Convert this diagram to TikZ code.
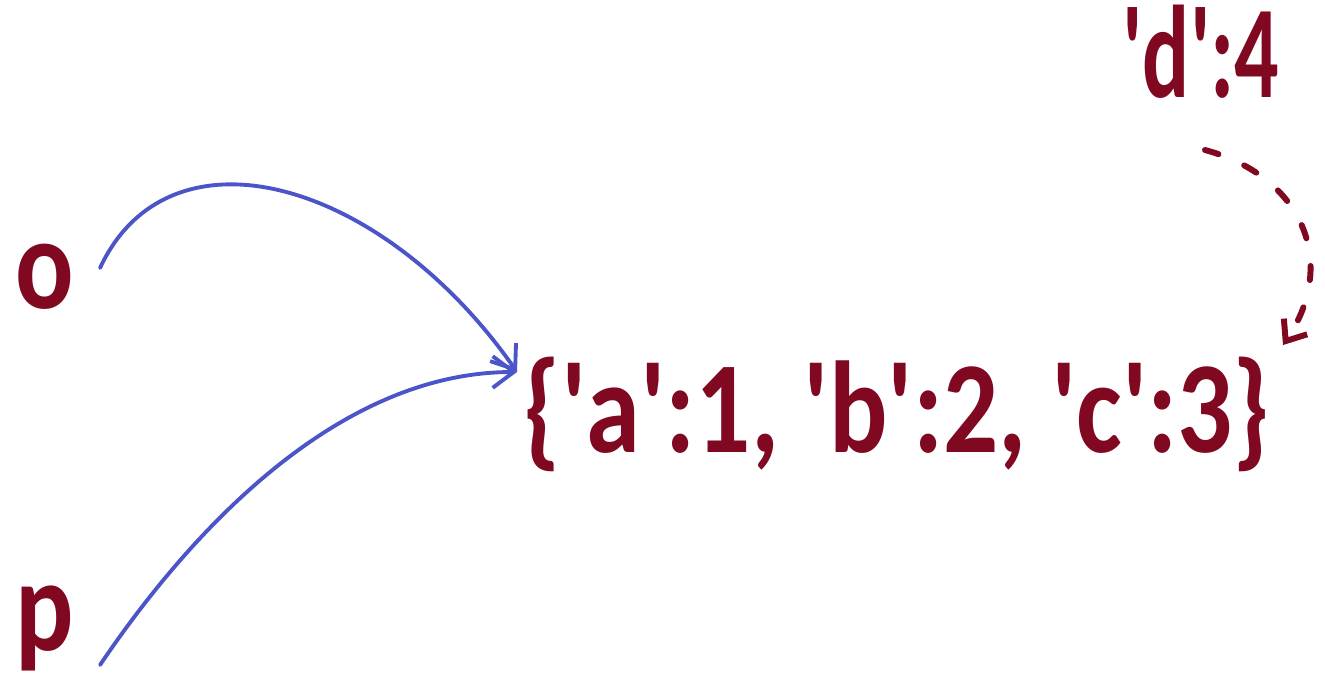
\documentclass[tikz,border=0pt]{standalone}
\usepackage{fontspec}
\setmainfont{Carlito}
\usetikzlibrary{arrows.meta}

\definecolor{wine}{RGB}{128,8,32}
\definecolor{refblue}{RGB}{75,85,200}
\newcommand{\q}{\textquotesingle}

\begin{document}
\begin{tikzpicture}[line cap=round, line join=round,
    lbl/.style={text=wine, font=\bfseries\fontsize{31}{36}\selectfont, yscale=1.2, inner sep=0pt},
    keylbl/.style={text=wine, font=\bfseries\fontsize{25}{30}\selectfont, yscale=1.5, inner sep=0pt},
    refline/.style={refblue, line width=1.1pt, -{Straight Barb[length=6pt,width=9pt]}},
    newkey/.style={wine, line width=1.7pt, dash pattern=on 4pt off 8pt, -{Straight Barb[length=5pt,width=8pt]}}]
  \useasboundingbox (0,0) rectangle (13.25,6.8);

  % Namen
  \node[lbl, anchor=base west] (o) at (0.15,3.72) {o};
  \node[lbl, anchor=base west] (p) at (0.15,0.30) {p};

  % Woerterbuch
  \node[lbl, anchor=base west] (dict) at (5.23,2.28) {\{\q a\q:1, \q b\q:2, \q c\q:3\}};
  \node[keylbl, anchor=base east] (d) at (12.80,5.83) {\q d\q:4};

  % Verweise
  \draw[refline] ([shift={(0.85,0.40)}]o.base west) to[out=65, in=125, out distance=1.64cm, in distance=2.36cm] ([shift={(-0.06,0.80)}]dict.base west);
  \draw[refline] ([shift={(0.85,-0.15)}]p.base west) to[out=56, in=180, out distance=1.44cm, in distance=1.87cm] ([shift={(-0.06,0.80)}]dict.base west);

  % neuer Eintrag
  \draw[newkey] ([shift={(-0.75,-0.53)}]d.base east) to[out=-15, in=56, out distance=1cm, in distance=1cm] ([shift={(7.60,1.07)}]dict.base west);
\end{tikzpicture}
\end{document}
